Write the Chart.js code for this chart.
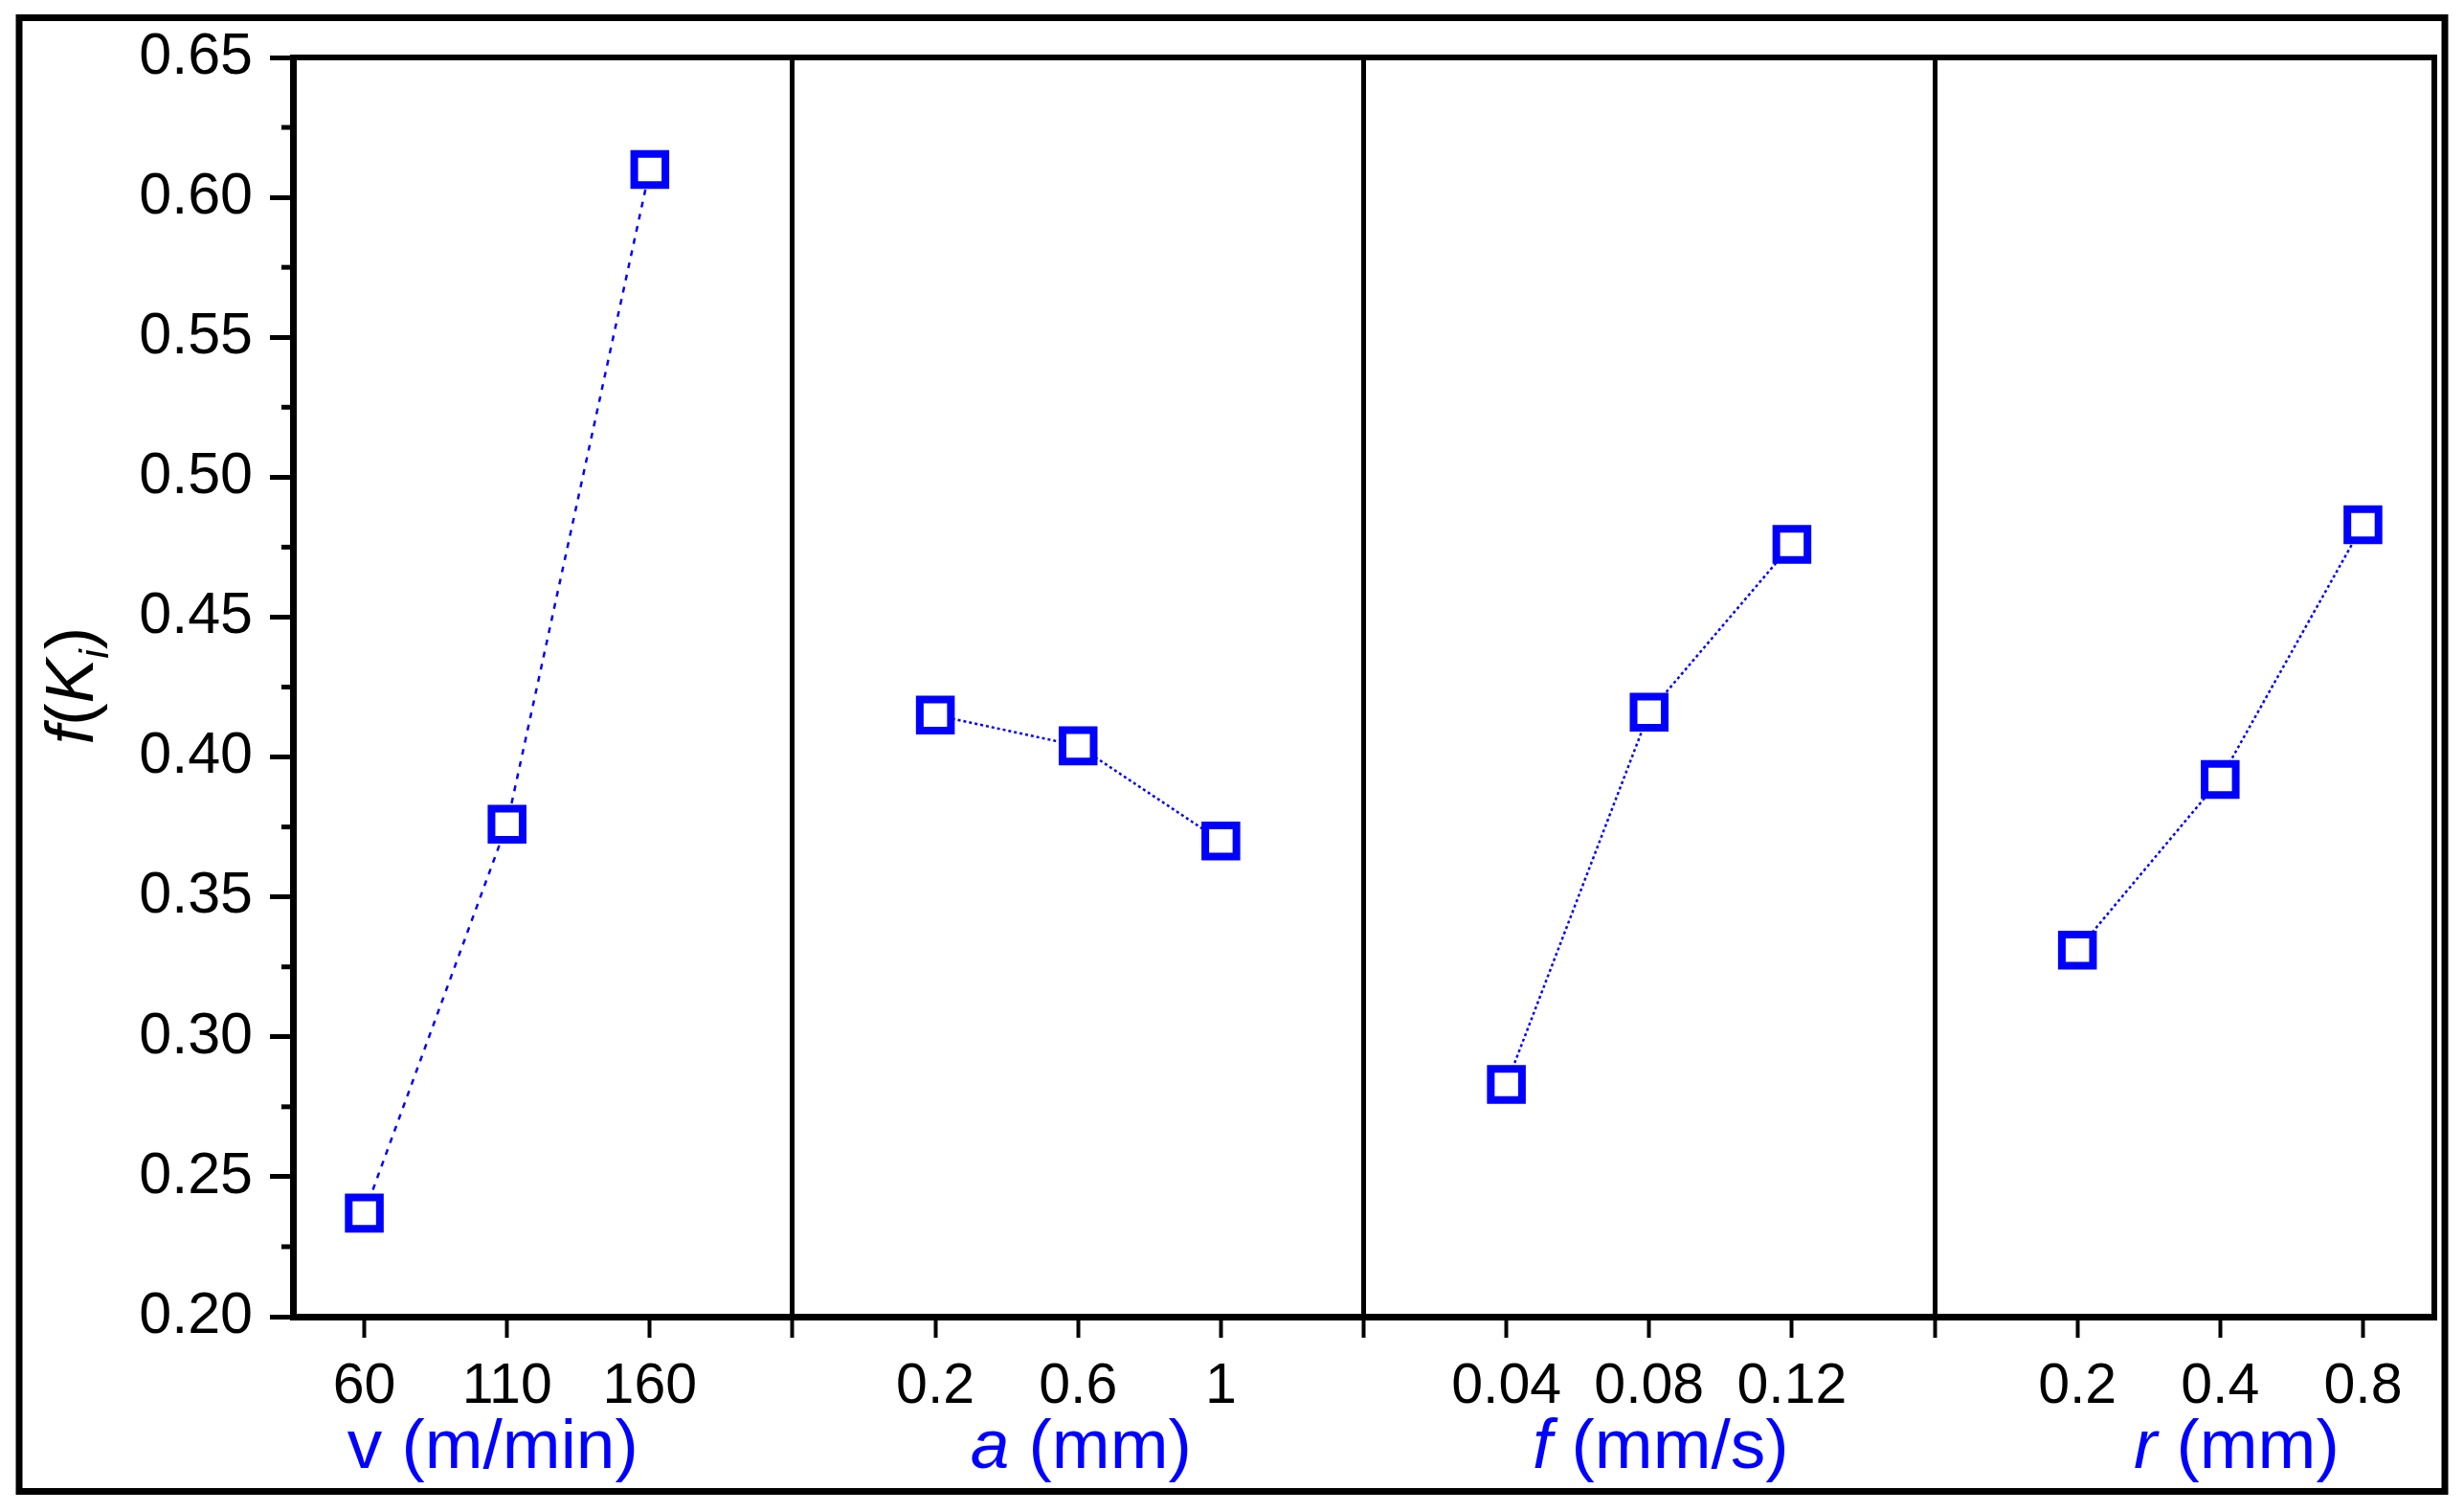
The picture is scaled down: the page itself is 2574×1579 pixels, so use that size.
<!DOCTYPE html>
<html>
<head>
<meta charset="utf-8">
<title>f(Ki) main effects</title>
<script src="https://cdn.jsdelivr.net/npm/chart.js@4.4.1/dist/chart.umd.min.js"></script>
<style>
  html, body { margin: 0; padding: 0; background: #fff; }
  #wrap { position: relative; width: 2574px; height: 1579px; }
</style>
</head>
<body>
<div id="wrap"><canvas id="chart"></canvas></div>
<script>
// levels of each factor (tick labels) and mean f(Ki) for each level
const speedLevels = ['60', '110', '160'];
const depthLevels = ['0.2', '0.6', '1'];
const feedLevels = ['0.04', '0.08', '0.12'];
const radiusLevels = ['0.2', '0.4', '0.8'];

const speedValues = [0.237, 0.376, 0.610];
const depthValues = [0.415, 0.404, 0.370];
const feedValues = [0.283, 0.416, 0.476];
const radiusValues = [0.331, 0.392, 0.483];

const yTicks = [0.20, 0.25, 0.30, 0.35, 0.40, 0.45, 0.50, 0.55, 0.60, 0.65];
const yMinorTicks = [0.225, 0.275, 0.325, 0.375, 0.425, 0.475, 0.525, 0.575, 0.625];

// factor titles: [symbol, unit, italic symbol]
const factorTitles = [
    ['v', ' (m/min)', false],
    ['a', ' (mm)', true],
    ['f', ' (mm/s)', true],
    ['r', ' (mm)', true]
];

const panels = [
    { levels: speedLevels, values: speedValues, dash: [6, 7] },
    { levels: depthLevels, values: depthValues, dash: [3, 3] },
    { levels: feedLevels, values: feedValues, dash: [3, 3] },
    { levels: radiusLevels, values: radiusValues, dash: [3, 3] }
];

// each panel takes 4 slots on the x axis: 3 levels + a divider
const xLabels = [];
const xTickPos = [];
const dividers = [];
panels.forEach((p, i) => {
    p.levels.forEach((lv, j) => {
        xTickPos.push(i * 4 + j);
        xLabels[i * 4 + j] = lv;
    });
    if (i < panels.length - 1) {
        xTickPos.push(i * 4 + 3);
        xLabels[i * 4 + 3] = '';
        dividers.push(i * 4 + 3);
    }
});

const BLUE = '#0000ff';
const FONT = '"Liberation Sans", Arial, sans-serif';

const datasets = panels.map((p, i) => ({
    data: p.values.map((v, j) => ({ x: i * 4 + j, y: v })),
    borderColor: BLUE,
    borderWidth: 2.5,
    borderDash: p.dash,
    pointStyle: 'rect',
    pointRadius: 23,
    pointBorderWidth: 8,
    pointBorderColor: BLUE,
    pointBackgroundColor: '#ffffff',
    pointHoverRadius: 23,
    tension: 0
}));

// frame, top/right border, minor ticks and axis titles
const decorations = {
    id: 'decorations',
    afterDraw(chart) {
        const ctx = chart.ctx;
        const area = chart.chartArea;
        const xs = chart.scales.x;
        const ys = chart.scales.y;
        ctx.save();
        ctx.strokeStyle = '#000';

        // outer frame
        ctx.lineWidth = 7;
        ctx.strokeRect(20, 18.5, chart.width - 40, chart.height - 40);

        // plot box top and right
        ctx.lineWidth = 6;
        ctx.beginPath();
        ctx.moveTo(area.left - 3, area.top);
        ctx.lineTo(area.right, area.top);
        ctx.lineTo(area.right, area.bottom);
        ctx.stroke();

        // minor y ticks
        ctx.lineWidth = 5;
        yMinorTicks.forEach(v => {
            const y = ys.getPixelForValue(v);
            ctx.beginPath();
            ctx.moveTo(area.left - 12, y);
            ctx.lineTo(area.left, y);
            ctx.stroke();
        });

        // x titles, under the middle level of each panel
        ctx.fillStyle = BLUE;
        ctx.textBaseline = 'alphabetic';
        ctx.textAlign = 'left';
        const size = 73;
        const nudge = [-15, 3, 12, 17];
        factorTitles.forEach((t, i) => {
            const symFont = (t[2] ? 'italic ' : '') + size + 'px ' + FONT;
            const unitFont = size + 'px ' + FONT;
            ctx.font = symFont;
            const w1 = ctx.measureText(t[0]).width;
            ctx.font = unitFont;
            const w2 = ctx.measureText(t[1]).width;
            const cx = xs.getPixelForValue(i * 4 + 1) + nudge[i];
            const x0 = cx - (w1 + w2) / 2;
            const y = 1533;
            ctx.font = symFont;
            ctx.fillText(t[0], x0, y);
            ctx.font = unitFont;
            ctx.fillText(t[1], x0 + w1, y);
        });

        // y title f(K_i), rotated
        ctx.fillStyle = '#000';
        ctx.translate(97, 716);
        ctx.rotate(-Math.PI / 2);
        const ySize = 70;
        const parts = [
            { s: 'f', f: 'italic ' + ySize + 'px ' + FONT, dy: 0 },
            { s: '(', f: ySize + 'px ' + FONT, dy: 0 },
            { s: 'K', f: 'italic ' + ySize + 'px ' + FONT, dy: 0 },
            { s: 'i', f: 'italic ' + Math.round(ySize * 0.62) + 'px ' + FONT, dy: 16 },
            { s: ')', f: ySize + 'px ' + FONT, dy: 0 }
        ];
        let total = 0;
        parts.forEach(p => { ctx.font = p.f; p.w = ctx.measureText(p.s).width; total += p.w; });
        let px = -total / 2;
        parts.forEach(p => {
            ctx.font = p.f;
            ctx.fillText(p.s, px, p.dy);
            px += p.w;
        });
        ctx.restore();
    }
};

new Chart(document.getElementById('chart'), {
    type: 'line',
    data: { datasets },
    options: {
        responsive: true,
        maintainAspectRatio: false,
        animation: false,
        events: [],
        layout: { padding: { left: 0, top: 60, right: 29, bottom: 0 } },
        plugins: { legend: { display: false }, tooltip: { enabled: false } },
        scales: {
            x: {
                type: 'linear',
                min: -0.5,
                max: 14.5,
                afterBuildTicks: scale => { scale.ticks = xTickPos.map(v => ({ value: v })); },
                afterFit: scale => { scale.height = 204; },
                ticks: {
                    autoSkip: false,
                    maxRotation: 0,
                    padding: 16,
                    color: '#000',
                    font: { family: FONT, size: 59 },
                    callback: v => xLabels[v]
                },
                grid: {
                    drawOnChartArea: true,
                    color: c => (c.tick && dividers.includes(c.tick.value)) ? '#000' : 'rgba(0,0,0,0)',
                    lineWidth: 5,
                    tickColor: '#000',
                    tickWidth: 4,
                    tickLength: 22
                },
                border: { display: true, color: '#000', width: 7 }
            },
            y: {
                min: 0.2,
                max: 0.65,
                afterBuildTicks: scale => { scale.ticks = yTicks.map(v => ({ value: v })); },
                afterFit: scale => { scale.width = 306; },
                ticks: {
                    padding: 18,
                    color: '#000',
                    font: { family: FONT, size: 61 },
                    callback: v => Number(v).toFixed(2)
                },
                grid: {
                    drawOnChartArea: false,
                    tickColor: '#000',
                    tickWidth: 5,
                    tickLength: 24
                },
                border: { display: true, color: '#000', width: 7 }
            }
        }
    },
    plugins: [decorations]
});
</script>
</body>
</html>
